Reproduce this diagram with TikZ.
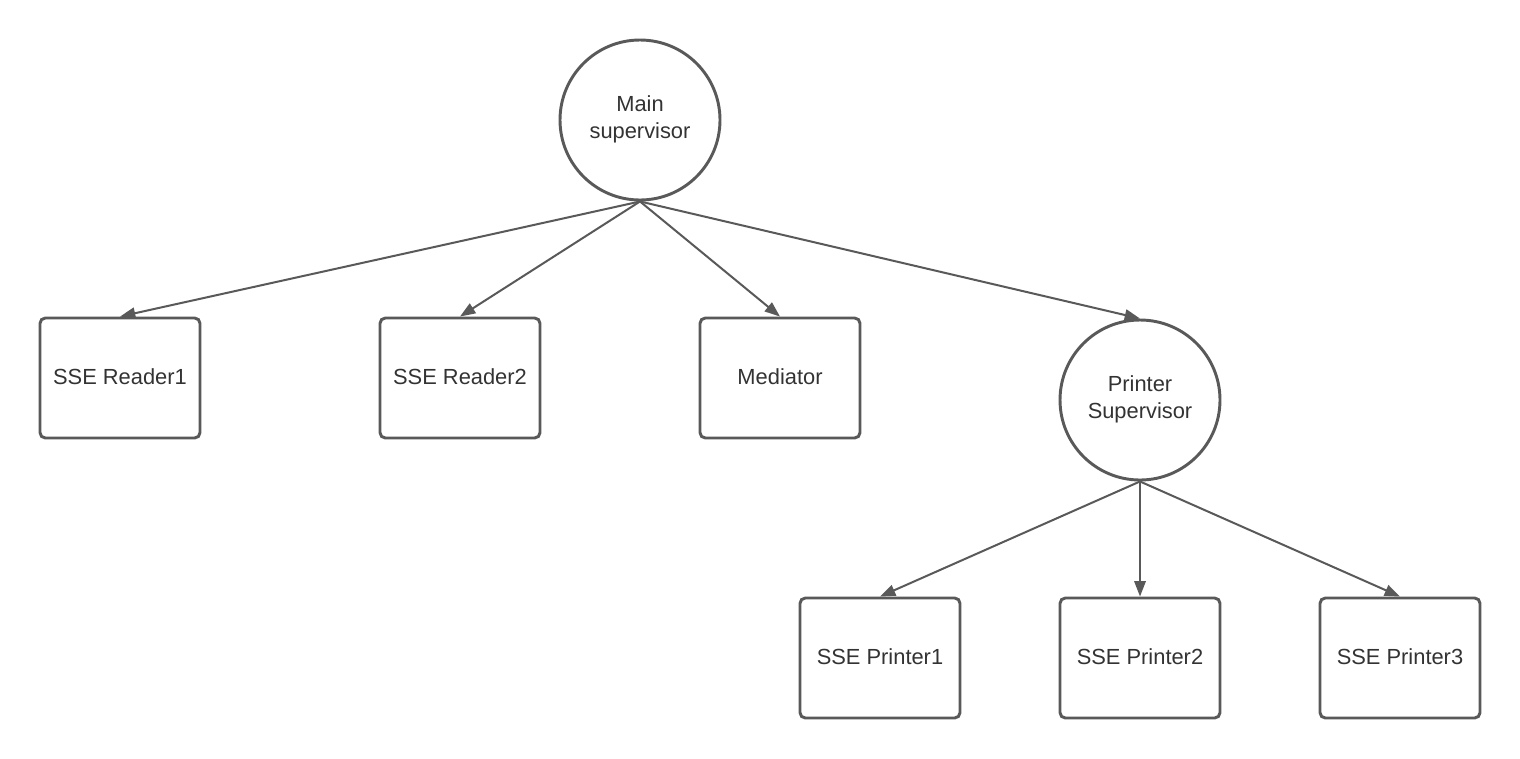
\documentclass[tikz,border=0pt]{standalone}
\usepackage{fontspec}
\setmainfont{Liberation Sans}
\usetikzlibrary{positioning,arrows.meta}
\definecolor{linegray}{HTML}{595959}
\definecolor{textgray}{HTML}{333333}

\begin{document}
\begin{tikzpicture}[x=0.75pt,y=-0.75pt,
    actor/.style={rectangle,draw=linegray,line width=2.2pt,rounded corners=4pt,
      minimum width=120pt,minimum height=90pt,text=textgray,text depth=0.25em,
      font=\fontsize{16.4}{20}\selectfont},
    supervisor/.style={circle,draw=linegray,line width=2.2pt,minimum size=120pt,
      inner sep=0pt,align=center,text=textgray,text depth=0.45em,
      font=\fontsize{16.4}{20}\selectfont},
    >={Triangle[length=11.5pt,width=8.5pt]}]
    \useasboundingbox (0,0) rectangle (1520,758);

    \node[supervisor] (main_sup) at (640,120) {Main\\supervisor};

    % Children of the main supervisor
    \node[actor] (reader1) at (120,378) {SSE Reader1};
    \node[actor] (reader2) at (460,378) {SSE Reader2};
    \node[actor] (mediator) at (780,378) {Mediator};
    \node[supervisor] (printer_sup) at (1140,400) {Printer\\Supervisor};

    % Printers
    \node[actor] (printer1) at (880,658) {SSE Printer1};
    \node[actor] (printer2) at (1140,658) {SSE Printer2};
    \node[actor] (printer3) at (1400,658) {SSE Printer3};

    \begin{scope}[draw=linegray,line width=1.5pt]
    \draw[->] (main_sup.south) -- (reader1.north);
    \draw[->] (main_sup.south) -- (reader2.north);
    \draw[->] (main_sup.south) -- (mediator.north);
    \draw[->] (main_sup.south) -- (printer_sup.north);
    \draw[->] (printer_sup.south) -- (printer1.north);
    \draw[->] (printer_sup.south) -- (printer2.north);
    \draw[->] (printer_sup.south) -- (printer3.north);
    \end{scope}
\end{tikzpicture}
\end{document}
